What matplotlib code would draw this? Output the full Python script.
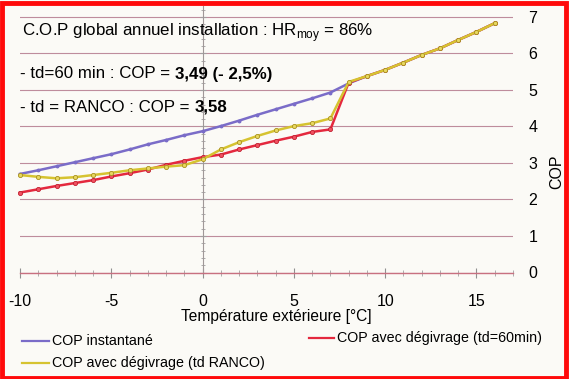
import matplotlib.pyplot as plt
from matplotlib.lines import Line2D
from matplotlib.patches import Rectangle
from matplotlib.ticker import MultipleLocator
import numpy as np

plt.rcParams['font.family'] = ['Liberation Sans', 'DejaVu Sans']
plt.rcParams['axes.unicode_minus'] = False

# outdoor temperature [°C]
temp = [-10, -9, -8, -7, -6, -5, -4, -3, -2, -1, 0, 1, 2, 3, 4, 5, 6, 7, 8,
        9, 10, 11, 12, 13, 14, 15, 16]
# COP instantané
cop_inst = [2.70, 2.80, 2.91, 3.02, 3.13, 3.24, 3.37, 3.51, 3.63, 3.76, 3.87,
            4.01, 4.16, 4.32, 4.47, 4.62, 4.77, 4.93, 5.18,
            5.38, 5.55, 5.75, 5.96, 6.14, 6.37, 6.59, 6.83]
# COP avec dégivrage (td=60min)
cop_td60 = [2.19, 2.28, 2.37, 2.45, 2.53, 2.63, 2.72, 2.82, 2.95, 3.06, 3.16,
            3.23, 3.37, 3.49, 3.61, 3.72, 3.85, 3.92, 5.20,
            5.38, 5.55, 5.75, 5.96, 6.14, 6.37, 6.59, 6.83]
# COP avec dégivrage (td RANCO)
cop_ranco = [2.67, 2.62, 2.58, 2.61, 2.67, 2.73, 2.80, 2.85, 2.90, 2.94, 3.10,
             3.37, 3.57, 3.74, 3.89, 4.01, 4.09, 4.22, 5.22,
             5.38, 5.55, 5.75, 5.96, 6.14, 6.37, 6.59, 6.83]

xticks = [-10, -5, 0, 5, 10, 15]
yticks = [0, 1, 2, 3, 4, 5, 6, 7]

c_inst = '#7a6cc8'
c_td60 = '#e4283e'
c_ranco = '#d6c330'
W, H = 569, 379

fig = plt.figure(figsize=(W / 100, H / 100), dpi=100)
fig.patch.set_facecolor('#fbfaf6')
fig.add_artist(Rectangle((1.5 / W, 1.5 / H), (W - 5) / W, (H - 4) / H,
                         transform=fig.transFigure, fill=False,
                         edgecolor='#ff0a0a', lw=3.5))

ax = fig.add_axes([20 / W, 1 - 272.5 / H, 493 / W, 266.5 / H])
ax.patch.set_alpha(0)
ax.set_xlim(-10, 17)
ax.set_ylim(0, 7.3)

for s in ['top', 'right']:
    ax.spines[s].set_visible(False)
ax.spines['left'].set_position(('data', 0))
ax.spines['left'].set_color('#a09898')
ax.spines['left'].set_linewidth(0.8)
ax.spines['bottom'].set_color('#c87080')
ax.spines['bottom'].set_linewidth(1.0)

ax.set_xticks(xticks)
ax.xaxis.set_minor_locator(MultipleLocator(1))
ax.set_yticks(yticks)
ax.yaxis.set_minor_locator(MultipleLocator(0.2))
ax.tick_params(axis='x', which='major', direction='inout', length=7,
               color='#909090', labelsize=11.5, pad=12)
ax.tick_params(axis='x', which='minor', direction='inout', length=4,
               color='#a0a0a0')
ax.tick_params(axis='y', which='both', left=True, right=False,
               labelleft=False, labelright=True, direction='inout',
               color='#a0a0a0', labelsize=11.5, pad=9)
ax.tick_params(axis='y', which='major', length=4)
ax.tick_params(axis='y', which='minor', length=3)
ax.yaxis.grid(True, which='major', color='#be8c9c', lw=0.8)
ax.set_axisbelow(True)

ax.plot(temp, cop_inst, color=c_inst, lw=1.8, marker='o', ms=1.8,
        clip_on=False, zorder=3)
ax.plot(temp, cop_td60, color=c_td60, lw=1.8, marker='o', ms=3,
        mfc='#f05060', mec='#c02030', mew=0.6, clip_on=False, zorder=4)
ax.plot(temp, cop_ranco, color=c_ranco, lw=1.8, marker='o', ms=3,
        mfc='#e8d860', mec='#a89020', mew=0.6, clip_on=False, zorder=5)

# annotation block
fig.text(22 / W, 1 - 33 / H,
         r'C.O.P global annuel installation : HR$_{\mathregular{moy}}$ = 86%',
         fontsize=12.2, va='center')
t2 = fig.text(20 / W, 1 - 74 / H, '- td=60 min : COP = ',
              fontsize=12.2, va='center')
ax.annotate('3,49 (- 2,5%)', xy=(1, 0), xycoords=t2, fontsize=12.2,
            fontweight='bold', va='bottom', ha='left')
t3 = fig.text(20 / W, 1 - 107 / H, '- td = RANCO : COP = ',
              fontsize=12.2, va='center')
ax.annotate('3,58', xy=(1, 0), xycoords=t3, fontsize=12.2,
            fontweight='bold', va='bottom', ha='left')

fig.text(557 / W, 1 - 172 / H, 'COP', rotation=90, fontsize=11.5,
         ha='center', va='center')
fig.text(276 / W, 1 - 316 / H, 'Température extérieure [°C]', fontsize=11.2,
         ha='center', va='center')

# legend
legend = [('COP instantané', c_inst, 22, 49, 341),
          ('COP avec dégivrage (td=60min)', c_td60, 309, 334, 338),
          ('COP avec dégivrage (td RANCO)', c_ranco, 22, 49, 363)]
for label, col, x0, x1, y in legend:
    fig.add_artist(Line2D([x0 / W, x1 / W], [1 - y / H, 1 - y / H],
                          transform=fig.transFigure, color=col, lw=1.6))
    fig.text((x1 + 3) / W, 1 - y / H, label, fontsize=10.3,
             ha='left', va='center')

fig.savefig('out.png', dpi=100, facecolor=fig.get_facecolor())
